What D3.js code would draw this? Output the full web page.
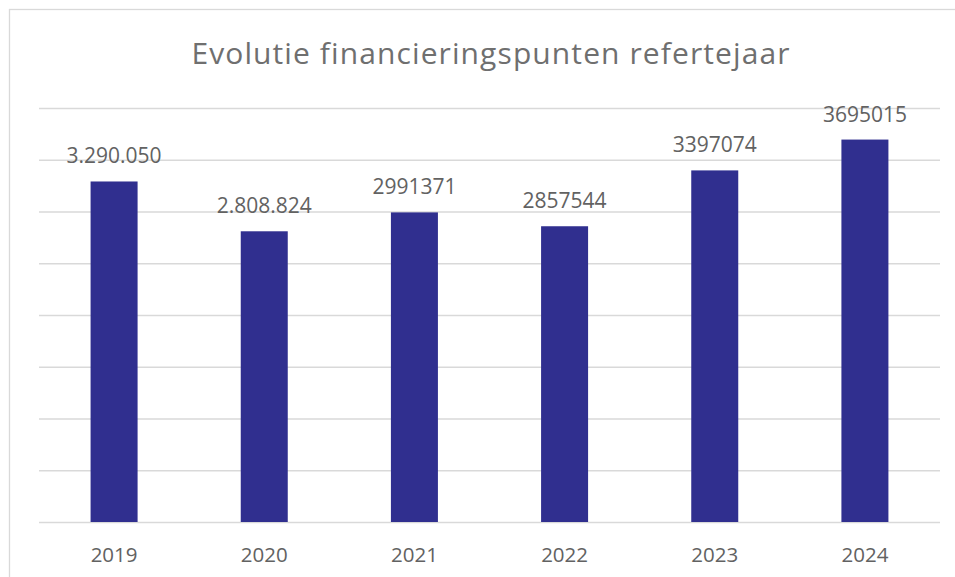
<!DOCTYPE html>
<html>
<head>
<meta charset="utf-8">
<script src="https://cdn.jsdelivr.net/npm/d3@7"></script>
<style>
  html, body { margin: 0; padding: 0; background: #fff; }
  svg { display: block; font-family: "Open Sans", sans-serif; }
</style>
</head>
<body>
<div id="chart"></div>
<script>
// data
const years  = ["2019", "2020", "2021", "2022", "2023", "2024"];
const values = [3290050, 2808824, 2991371, 2857544, 3397074, 3695015];
const labels = ["3.290.050", "2.808.824", "2991371", "2857544", "3397074", "3695015"];
const yTicks = [0, 500000, 1000000, 1500000, 2000000, 2500000, 3000000, 3500000, 4000000];
const title  = "Evolutie financieringspunten refertejaar";

const W = 955, H = 577;
const plot = { left: 39, right: 940, top: 108, bottom: 522 };

const svg = d3.select("#chart").append("svg")
  .attr("width", W).attr("height", H);

// chart frame (runs off right / bottom of the picture)
svg.append("rect")
  .attr("x", 9.5).attr("y", 9.5)
  .attr("width", W + 20).attr("height", H + 20)
  .attr("fill", "#fff")
  .attr("stroke", "#d9d9d9")
  .attr("stroke-width", 1.3);

svg.append("text")
  .attr("x", 491).attr("y", 64)
  .attr("text-anchor", "middle")
  .attr("font-size", 30)
  .attr("letter-spacing", 1.1)
  .attr("fill", "#6f6f6f")
  .text(title);

const x = d3.scaleBand()
  .domain(years)
  .range([plot.left, plot.right])
  .paddingInner(0.687)
  .paddingOuter(0.3435);

const y = d3.scaleLinear()
  .domain([0, 4000000])
  .range([plot.bottom, plot.top]);

// gridlines
svg.append("g")
  .attr("transform", `translate(${plot.left},0)`)
  .call(d3.axisLeft(y).tickValues(yTicks).tickSize(-(plot.right - plot.left)).tickFormat(""))
  .call(g => g.select(".domain").remove())
  .call(g => g.selectAll(".tick line").attr("stroke", "#d9d9d9").attr("stroke-width", 1.3));

// bars
svg.append("g").selectAll("rect")
  .data(years)
  .join("rect")
  .attr("x", d => x(d))
  .attr("y", (d, i) => y(values[i]))
  .attr("width", x.bandwidth())
  .attr("height", (d, i) => y(0) - y(values[i]))
  .attr("fill", "#302f8f");

// data labels
svg.append("g").selectAll("text")
  .data(years)
  .join("text")
  .attr("x", d => x(d) + x.bandwidth() / 2)
  .attr("y", (d, i) => y(values[i]) - 18)
  .attr("text-anchor", "middle")
  .attr("font-size", 21)
  .attr("fill", "#626262")
  .text((d, i) => labels[i]);

// x axis
svg.append("g")
  .attr("transform", `translate(0,${plot.bottom})`)
  .call(d3.axisBottom(x).tickSize(0).tickPadding(0))
  .call(g => g.select(".domain").remove())
  .call(g => g.selectAll(".tick text")
    .attr("dy", 0).attr("y", 40)
    .attr("font-size", 20.5)
    .attr("font-family", "Open Sans, sans-serif")
    .attr("fill", "#626262"));
</script>
</body>
</html>
